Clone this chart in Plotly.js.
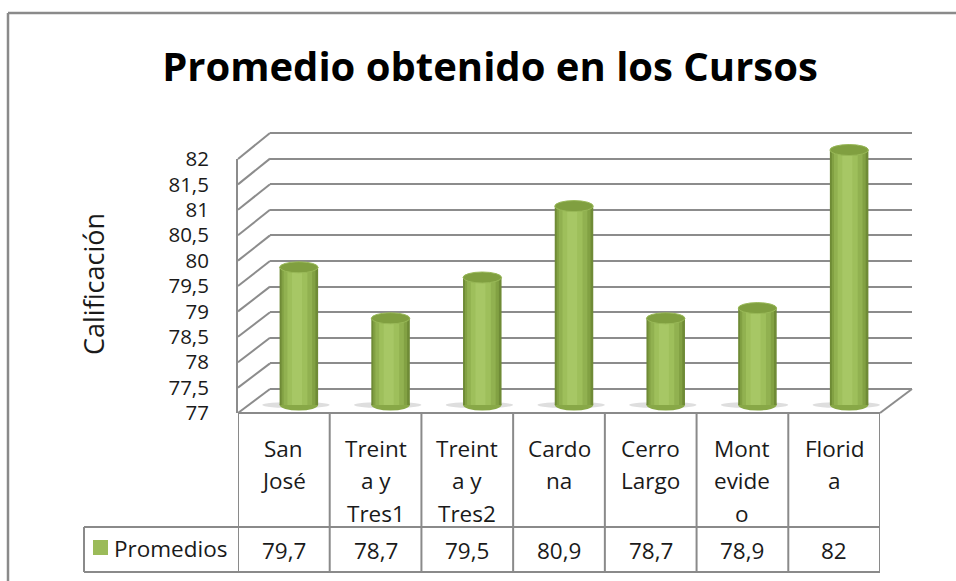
<!DOCTYPE html>
<html>
<head>
<meta charset="utf-8">
<script src="https://cdn.plot.ly/plotly-3.0.1.min.js"></script>
<style>html,body{margin:0;padding:0;background:#fff;} #chart{width:956px;height:581px;}</style>
</head>
<body>
<div id="chart"></div>
<script>
// ---- data ----
const categories = ["San José", "Treinta y Tres1", "Treinta y Tres2", "Cardona", "Cerro Largo", "Montevideo", "Florida"];
const tableLabels = [["San", "José"], ["Treint", "a y", "Tres1"], ["Treint", "a y", "Tres2"], ["Cardo", "na"], ["Cerro", "Largo"], ["Mont", "evide", "o"], ["Florid", "a"]];
const promedios = [79.7, 78.7, 79.5, 80.9, 78.7, 78.9, 82];
const seriesName = "Promedios";
const yTickVals = [77, 77.5, 78, 78.5, 79, 79.5, 80, 80.5, 81, 81.5, 82];
const chartTitle = "Promedio obtenido en los Cursos";
const yTitle = "Calificación";

// ---- geometry helpers (pixel -> paper) ----
const W = 956, H = 581;
const fx = px => px / W;
const fy = py => 1 - py / H;
const yMin = 77, yMax = 82;
const FONT = "Open Sans, Lato, sans-serif";
const GRID = "#8c8c8c";
const TXT = "#1a1a1a";

// front label axis: 77 at 413px, 82 at 159px ; back wall: 77 at 389, 82 at 133
const frontY = v => 413 - (v - yMin) * (413 - 159) / (yMax - yMin);
const backPx = (389 - 133) / (yMax - yMin);
const backY = v => 389 - (v - yMin) * backPx;
const backRange = [76.9, 82.1];
// bar axis: 77 at 405px, 51 px per unit
const barPx = 51, barBase = 405;
const barRange = [76.8, 82.45];

const idx = categories.map((_, i) => i);
const BW = 0.42;

const layers = [
  {w: 1.00, off: 0.000, c: "#6f8b36"},
  {w: 0.88, off: -0.004, c: "#82a143"},
  {w: 0.74, off: -0.010, c: "#91b150"},
  {w: 0.52, off: -0.016, c: "#9ebf5b"},
  {w: 0.26, off: -0.020, c: "#a7c765"}
];

const traces = [];
// empty traces so the helper subplots exist
traces.push({type: "scatter", x: [], y: [], xaxis: "x", yaxis: "y", showlegend: false, hoverinfo: "skip"});
traces.push({type: "scatter", x: [], y: [], xaxis: "x2", yaxis: "y2", showlegend: false, hoverinfo: "skip"});
layers.forEach(L => {
  traces.push({
    type: "bar",
    x: idx.map(i => i + L.off),
    y: promedios.map(v => v - yMin),
    base: yMin,
    width: BW * L.w,
    marker: {color: L.c, line: {width: 0}},
    xaxis: "x3", yaxis: "y3",
    name: seriesName, showlegend: false, hoverinfo: "skip"
  });
});

const shapes = [];
const dy = 5.5 / barPx; // ellipse half-height in data units
// shadows + rounded bottoms
idx.forEach(i => {
  shapes.push({type: "circle", xref: "x3", yref: "y3", layer: "below",
    x0: i - BW * 0.95, x1: i + BW * 0.8, y0: yMin - 0.06, y1: yMin + 0.06,
    fillcolor: "rgba(90,90,90,0.2)", line: {width: 0}});
  shapes.push({type: "circle", xref: "x3", yref: "y3", layer: "below",
    x0: i - BW / 2, x1: i + BW / 2, y0: yMin - dy, y1: yMin + dy,
    fillcolor: "#88a847", line: {width: 0}});
});
// top ellipses
promedios.forEach((v, i) => {
  shapes.push({type: "circle", xref: "x3", yref: "y3", layer: "above",
    x0: i - BW / 2, x1: i + BW / 2, y0: v - dy, y1: v + dy,
    fillcolor: "#809f40", line: {color: "#98b857", width: 1}});
});
// left wall diagonals
yTickVals.forEach(v => {
  shapes.push({type: "line", xref: "paper", yref: "paper", layer: "below",
    x0: fx(238), y0: fy(frontY(v)), x1: fx(270), y1: fy(backY(v)),
    line: {color: GRID, width: 2}});
});
// floor right diagonal
shapes.push({type: "line", xref: "paper", yref: "paper", layer: "below",
  x0: fx(880), y0: fy(413), x1: fx(912), y1: fy(389), line: {color: GRID, width: 2}});
// data table grid
const tLine = {color: "#8a8a8a", width: 2};
shapes.push({type: "line", xref: "paper", yref: "paper", x0: fx(238), x1: fx(880), y0: fy(413), y1: fy(413), line: tLine});
shapes.push({type: "line", xref: "paper", yref: "paper", x0: fx(84), x1: fx(880), y0: fy(527), y1: fy(527), line: tLine});
shapes.push({type: "line", xref: "paper", yref: "paper", x0: fx(84), x1: fx(880), y0: fy(572), y1: fy(572), line: tLine});
shapes.push({type: "line", xref: "paper", yref: "paper", x0: fx(84), x1: fx(84), y0: fy(527), y1: fy(572), line: tLine});
for (let k = 0; k <= categories.length; k++) {
  shapes.push({type: "line", xref: "x2", yref: "paper", x0: k - 0.5, x1: k - 0.5, y0: fy(413), y1: fy(572), line: tLine});
}
// legend key
shapes.push({type: "rect", xref: "paper", yref: "paper", x0: fx(93), x1: fx(108), y0: fy(540), y1: fy(555),
  fillcolor: "#9bbb59", line: {width: 0}});
// outer frame
shapes.push({type: "line", xref: "paper", yref: "paper", x0: fx(8), x1: 1, y0: fy(13), y1: fy(13), line: {color: "#8a8a8a", width: 2.5}});
shapes.push({type: "line", xref: "paper", yref: "paper", x0: fx(8), x1: fx(8), y0: fy(13), y1: 0, line: {color: "#8a8a8a", width: 2.5}});

const annotations = [];
annotations.push({xref: "paper", yref: "paper", x: fx(93), y: fy(284), text: yTitle, textangle: -90,
  showarrow: false, font: {family: FONT, size: 27, color: TXT}, xanchor: "center", yanchor: "middle"});
tableLabels.forEach((lines, i) => {
  lines.forEach((t, j) => {
    annotations.push({xref: "x2", yref: "paper", x: i, y: fy(448 + j * 32.5), text: t, showarrow: false,
      font: {family: FONT, size: 22.5, color: TXT}, xanchor: "center", yanchor: "middle"});
  });
});
promedios.forEach((v, i) => {
  annotations.push({xref: "x2", yref: "paper", x: i, y: fy(550), text: String(v).replace(".", ","), showarrow: false,
    font: {family: FONT, size: 22.5, color: TXT}, xanchor: "center", yanchor: "middle"});
});
annotations.push({xref: "paper", yref: "paper", x: fx(112), y: fy(548), text: seriesName, showarrow: false,
  font: {family: FONT, size: 22.5, color: TXT}, xanchor: "left", yanchor: "middle"});

const hidden = {visible: false, fixedrange: true};
const layout = {
  width: W, height: H,
  margin: {l: 0, r: 0, t: 0, b: 0, pad: 0},
  paper_bgcolor: "#fff", plot_bgcolor: "rgba(0,0,0,0)",
  separators: ", ",
  showlegend: false,
  barmode: "overlay",
  title: {text: "<b>" + chartTitle + "</b>", x: fx(490), xanchor: "center", y: fy(67), yanchor: "middle",
    font: {family: FONT, size: 40, color: "#000"}},
  // back wall grid
  xaxis: Object.assign({}, hidden, {domain: [fx(270), fx(912)], range: [0, 1], anchor: "y"}),
  yaxis: {domain: [fy(389 + (yMin - backRange[0]) * backPx), fy(389 - (backRange[1] - yMin) * backPx)],
    range: backRange, tickvals: yTickVals, showticklabels: false,
    showgrid: true, gridcolor: GRID, gridwidth: 2, zeroline: false, showline: false, ticks: "", anchor: "x", fixedrange: true},
  // front labels / table axis
  xaxis2: Object.assign({}, hidden, {domain: [fx(238), fx(880)], range: [-0.5, categories.length - 0.5], anchor: "y2"}),
  yaxis2: {domain: [fy(413), fy(159)], range: [yMin, yMax], tickvals: yTickVals, showgrid: false, zeroline: false,
    showline: true, linecolor: GRID, linewidth: 2, ticks: "", ticklabelstandoff: 23,
    tickfont: {family: FONT, size: 20.5, color: TXT}, anchor: "x2", fixedrange: true},
  // bars
  xaxis3: Object.assign({}, hidden, {domain: [fx(253), fx(895)], range: [-0.5, categories.length - 0.5], anchor: "y3"}),
  yaxis3: Object.assign({}, hidden, {domain: [fy(barBase + (yMin - barRange[0]) * barPx), fy(barBase - (barRange[1] - yMin) * barPx)],
    range: barRange, anchor: "x3"}),
  shapes: shapes,
  annotations: annotations
};

Plotly.newPlot("chart", traces, layout, {displayModeBar: false, staticPlot: true});
</script>
</body>
</html>
